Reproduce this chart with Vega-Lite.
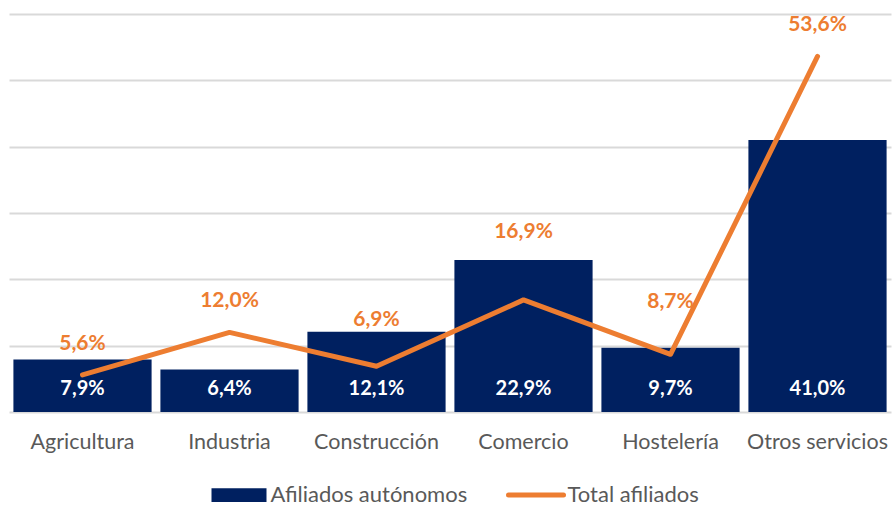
{
  "$schema": "https://vega.github.io/schema/vega-lite/v6.json",
  "width": 882,
  "height": 398,
  "autosize": "none",
  "padding": {"left": 9, "top": 14, "right": 1, "bottom": 94},
  "background": "white",
  "config": {
    "view": {"stroke": null},
    "font": "Lato",
    "axis": {"labelFont": "Lato", "labelColor": "#595959"},
    "legend": {"labelFont": "Lato"}
  },
  "data": {
    "values": [
      {"sector": "Agricultura", "autonomos": 7.9, "total": 5.6},
      {"sector": "Industria", "autonomos": 6.4, "total": 12.0},
      {"sector": "Construcción", "autonomos": 12.1, "total": 6.9},
      {"sector": "Comercio", "autonomos": 22.9, "total": 16.9},
      {"sector": "Hostelería", "autonomos": 9.7, "total": 8.7},
      {"sector": "Otros servicios", "autonomos": 41.0, "total": 53.6}
    ]
  },
  "transform": [
    {"calculate": "replace(format(datum.autonomos, '.1f'), '.', ',') + '%'", "as": "label_a"},
    {"calculate": "replace(format(datum.total, '.1f'), '.', ',') + '%'", "as": "label_t"}
  ],
  "encoding": {
    "x": {
      "field": "sector",
      "type": "nominal",
      "sort": null,
      "scale": {"paddingInner": 0.06, "paddingOuter": 0.03},
      "axis": {
        "title": null,
        "labelAngle": 0,
        "labelFontSize": 21.5,
        "labelPadding": 19,
        "ticks": false,
        "domain": false
      }
    }
  },
  "layer": [
    {
      "mark": {"type": "bar"},
      "encoding": {
        "y": {
          "field": "autonomos",
          "type": "quantitative",
          "scale": {"domain": [0, 60], "nice": false},
          "axis": {
            "title": null,
            "labels": false,
            "ticks": false,
            "domain": false,
            "values": [0, 10, 20, 30, 40, 50, 60],
            "gridColor": "#d9d9d9",
            "gridWidth": 2
          }
        },
        "color": {
          "datum": "Afiliados autónomos",
          "scale": {"domain": ["Afiliados autónomos", "Total afiliados"], "range": ["#002060", "#ED7D31"]},
          "legend": {
            "title": null,
            "orient": "none",
            "legendX": 219,
            "legendY": 470,
            "padding": 0,
            "direction": "horizontal",
            "labelFontSize": 22,
            "labelColor": "#595959",
            "labelLimit": 400,
            "labelOffset": 20.5,
            "columnPadding": 30,
            "encode": {
              "symbols": {
                "update": {
                  "shape": {"signal": "datum.value === 'Total afiliados' ? 'M-1,0H1' : 'M-1,-0.25H1V0.25H-1Z'"},
                  "fill": {"signal": "datum.value === 'Total afiliados' ? 'transparent' : '#002060'"},
                  "stroke": {"signal": "datum.value === 'Total afiliados' ? '#ED7D31' : '#002060'"},
                  "strokeWidth": {"signal": "datum.value === 'Total afiliados' ? 5 : 0"},
                  "strokeCap": {"value": "round"},
                  "opacity": {"value": 1},
                  "size": {"value": 3025}
                }
              }
            }
          }
        }
      }
    },
    {
      "mark": {"type": "text", "color": "white", "fontWeight": "bold", "fontSize": 20, "baseline": "middle", "dy": -23},
      "encoding": {
        "y": {"datum": 0, "type": "quantitative"},
        "text": {"field": "label_a", "type": "nominal"}
      }
    },
    {
      "mark": {"type": "line", "strokeWidth": 5, "strokeCap": "round", "strokeJoin": "round"},
      "encoding": {
        "y": {"field": "total", "type": "quantitative"},
        "color": {"datum": "Total afiliados"}
      }
    },
    {
      "transform": [{"filter": "datum.sector === 'Agricultura' || datum.sector === 'Industria' || datum.sector === 'Otros servicios'"}],
      "mark": {"type": "text", "color": "#ED7D31", "fontWeight": "bold", "fontSize": 21, "baseline": "middle", "dy": -31},
      "encoding": {
        "y": {"field": "total", "type": "quantitative"},
        "text": {"field": "label_t", "type": "nominal"}
      }
    },
    {
      "transform": [{"filter": "datum.sector === 'Construcción'"}],
      "mark": {"type": "text", "color": "#ED7D31", "fontWeight": "bold", "fontSize": 21, "baseline": "middle", "dy": -46},
      "encoding": {
        "y": {"field": "total", "type": "quantitative"},
        "text": {"field": "label_t", "type": "nominal"}
      }
    },
    {
      "transform": [{"filter": "datum.sector === 'Hostelería'"}],
      "mark": {"type": "text", "color": "#ED7D31", "fontWeight": "bold", "fontSize": 21, "baseline": "middle", "dy": -52},
      "encoding": {
        "y": {"field": "total", "type": "quantitative"},
        "text": {"field": "label_t", "type": "nominal"}
      }
    },
    {
      "transform": [{"filter": "datum.sector === 'Comercio'"}],
      "mark": {"type": "text", "color": "#ED7D31", "fontWeight": "bold", "fontSize": 21, "baseline": "middle", "dy": -68},
      "encoding": {
        "y": {"field": "total", "type": "quantitative"},
        "text": {"field": "label_t", "type": "nominal"}
      }
    }
  ]
}
